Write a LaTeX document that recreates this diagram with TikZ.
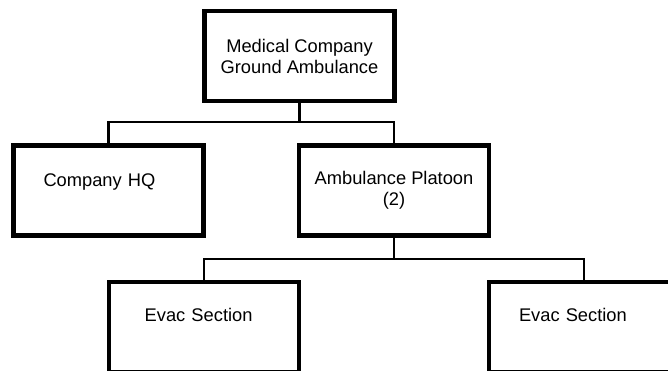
\documentclass[tikz,border=0pt]{standalone}
\usepackage{fontspec}
\setmainfont{Liberation Sans}
\usepackage{tikz}

\begin{document}
\begin{tikzpicture}[
    unitbox/.style={draw, line width=4.2pt, align=center, minimum width=190pt,
      minimum height=90pt, inner sep=0pt,
      font=\fontsize{18.3pt}{21pt}\selectfont},
    leafbox/.style={unitbox, align=left, text width=130pt, text height=14pt},
    link/.style={line width=2.2pt}]
    \useasboundingbox (0,0) rectangle (668pt,-371pt);
    \clip (0,0) rectangle (668pt,-371pt);

    \node (company) at (299.5pt, -56pt)
      [unitbox]
      {Medical Company \\ Ground Ambulance};

    \node (hq) at (108.5pt, -190.5pt)
      [leafbox, text depth=21pt]
      {Company HQ};
    \node (platoon) at (394pt, -190.5pt)
      [unitbox]
      {Ambulance Platoon \\ (2)};

    \node (evacleft) at (203.7pt, -327pt)
      [leafbox, text depth=26pt]
      {\hspace*{6pt}Evac Section};
    \node (evacright) at (584pt, -327pt)
      [leafbox, text depth=26pt]
      {Evac Section};

    \coordinate (topbus) at (299.5pt, -122pt);
    \coordinate (platoonbus) at (394pt, -259pt);

    \draw[link] (company.south) -- (topbus) -| (hq.north);
    \draw[link] (topbus) -| (platoon.north);
    \draw[link] (platoon.south) -- (platoonbus) -| (evacleft.north);
    \draw[link] (platoonbus) -| (evacright.north);
  \end{tikzpicture}
\end{document}
